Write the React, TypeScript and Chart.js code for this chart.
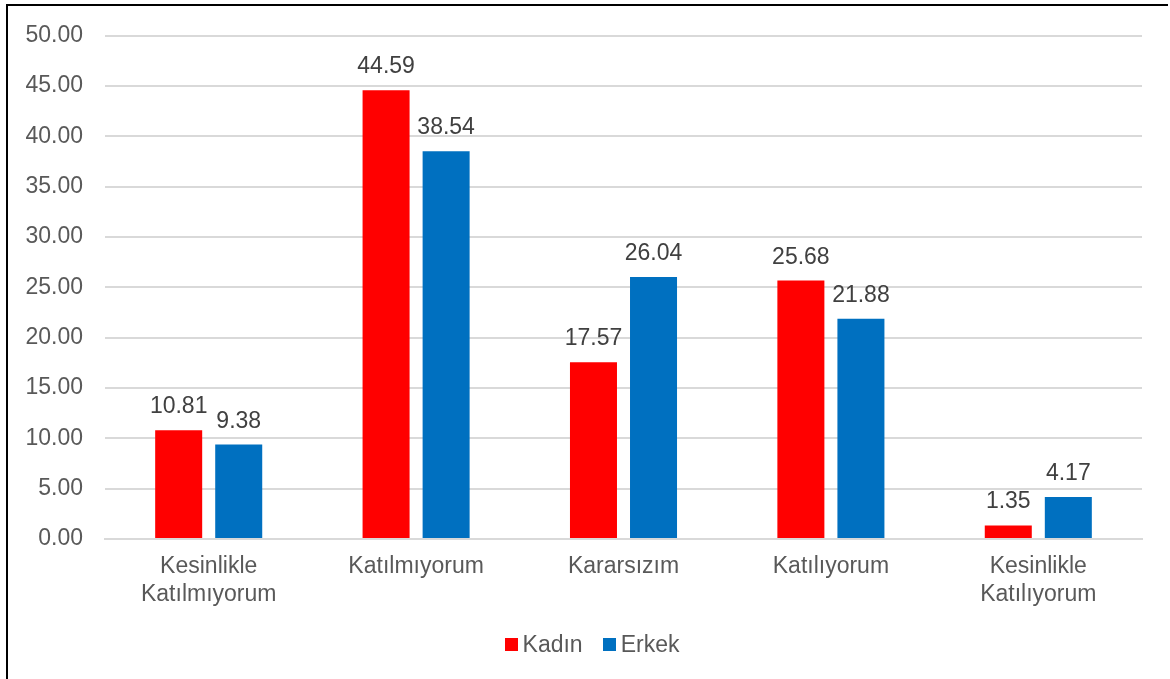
import React, { useEffect, useRef } from "react";
import { Chart, registerables } from "chart.js";

Chart.register(...registerables);

const categories: string[][] = [
  ["Kesinlikle", "Katılmıyorum"],
  ["Katılmıyorum"],
  ["Kararsızım"],
  ["Katılıyorum"],
  ["Kesinlikle", "Katılıyorum"],
];
const kadinValues = [10.81, 44.59, 17.57, 25.68, 1.35];
const erkekValues = [9.38, 38.54, 26.04, 21.88, 4.17];
const seriesNames = ["Kadın", "Erkek"];
const seriesColors = ["#FF0000", "#0070C0"];

const FONT = "'Liberation Sans', Arial, sans-serif";
const FONT_SIZE = 23;

// Value labels above each bar
const valueLabels = {
  id: "valueLabels",
  afterDatasetsDraw(chart: any) {
    const ctx = chart.ctx;
    ctx.save();
    ctx.font = `${FONT_SIZE}px ${FONT}`;
    ctx.fillStyle = "#404040";
    ctx.textAlign = "center";
    ctx.textBaseline = "alphabetic";
    chart.data.datasets.forEach((ds: any, i: number) => {
      const meta = chart.getDatasetMeta(i);
      meta.data.forEach((el: any, j: number) => {
        const v = ds.data[j] as number;
        ctx.fillText(v.toFixed(2), el.x, el.y - 17);
      });
    });
    ctx.restore();
  },
};

// Compact legend row under the axis
const legendRow = {
  id: "legendRow",
  afterDraw(chart: any) {
    const ctx = chart.ctx;
    ctx.save();
    ctx.font = `${FONT_SIZE}px ${FONT}`;
    ctx.textBaseline = "middle";
    ctx.textAlign = "left";
    const box = 13;
    const gap = 5;
    const itemGap = 20;
    const items = chart.data.datasets.map((ds: any) => ({
      label: ds.label as string,
      color: ds.backgroundColor as string,
      w: box + gap + ctx.measureText(ds.label).width,
    }));
    const total = items.reduce((s: number, it: any) => s + it.w, 0) + itemGap * (items.length - 1);
    const cx = 592;
    const cy = 644.5;
    let x = cx - total / 2;
    items.forEach((it: any) => {
      ctx.fillStyle = it.color;
      ctx.fillRect(Math.round(x), Math.round(cy - box / 2), box, box);
      ctx.fillStyle = "#595959";
      ctx.fillText(it.label, x + box + gap, cy + 1);
      x += it.w + itemGap;
    });
    ctx.restore();
  },
};

export default function App() {
  const canvasRef = useRef<HTMLCanvasElement | null>(null);

  useEffect(() => {
    if (!canvasRef.current) return;
    const chart = new Chart(canvasRef.current, {
      type: "bar",
      data: {
        labels: categories,
        datasets: [
          {
            label: seriesNames[0],
            data: kadinValues,
            backgroundColor: seriesColors[0],
            categoryPercentage: 0.579,
            barPercentage: 0.783,
          },
          {
            label: seriesNames[1],
            data: erkekValues,
            backgroundColor: seriesColors[1],
            categoryPercentage: 0.579,
            barPercentage: 0.783,
          },
        ],
      },
      options: {
        responsive: false,
        animation: false,
        layout: { padding: { top: 34, right: 28, bottom: 56, left: 0 } },
        plugins: {
          legend: { display: false },
          tooltip: { enabled: false },
        },
        scales: {
          x: {
            grid: { display: false, drawTicks: false },
            border: { display: true, color: "#D9D9D9", width: 2 },
            ticks: {
              color: "#595959",
              font: { family: FONT, size: FONT_SIZE, lineHeight: 28 / FONT_SIZE },
              padding: 14,
              maxRotation: 0,
              autoSkip: false,
            },
          },
          y: {
            min: 0,
            max: 50,
            afterFit(scale: any) {
              scale.width = 105;
            },
            grid: { color: "#D9D9D9", lineWidth: 2, drawTicks: false },
            border: { display: false },
            ticks: {
              stepSize: 5,
              color: "#595959",
              font: { family: FONT, size: FONT_SIZE },
              padding: 22,
              callback: (v: any) => Number(v).toFixed(2),
            },
          },
        },
      },
      plugins: [valueLabels, legendRow],
    });
    return () => chart.destroy();
  }, []);

  return (
    <div style={{ position: "absolute", left: 0, top: 0, width: 1170, height: 679, background: "#fff", overflow: "hidden" }}>
      <canvas ref={canvasRef} width={1170} height={679} style={{ position: "absolute", left: 0, top: 0 }} />
      <div
        style={{
          position: "absolute",
          left: 6,
          top: 4,
          width: 1160,
          height: 700,
          borderTop: "2px solid #000",
          borderLeft: "2px solid #000",
          pointerEvents: "none",
        }}
      />
    </div>
  );
}
